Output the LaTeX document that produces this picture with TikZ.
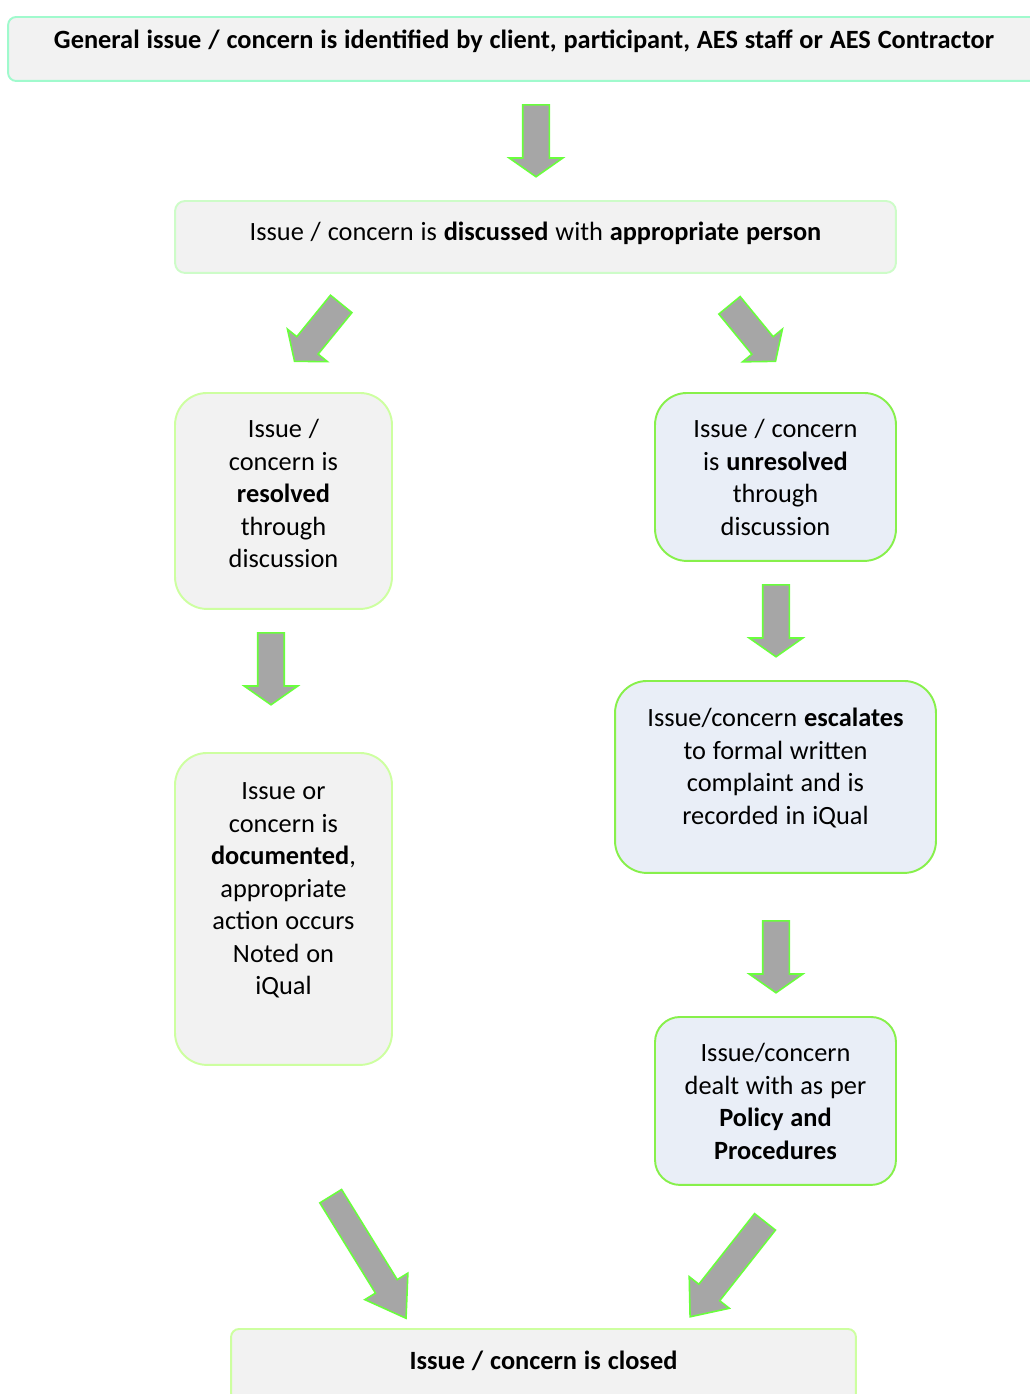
\documentclass[tikz,border=0pt]{standalone}
\usepackage{fontspec}
\setmainfont{Carlito}
\usepackage{xcolor}
\usepackage{tikz}
\usetikzlibrary{shapes.arrows}
\definecolor{boxgrey}{RGB}{242,242,242}
\definecolor{boxblue}{RGB}{233,238,247}
\definecolor{mint}{RGB}{160,250,205}
\definecolor{palegreen}{RGB}{205,252,200}
\definecolor{palelime}{RGB}{205,255,160}
\definecolor{brightlime}{RGB}{135,240,75}
\definecolor{arrowgrey}{RGB}{166,166,166}
\definecolor{arrowgreen}{RGB}{105,255,60}
\tikzstyle{stage} = [rectangle, rounded corners=0.64cm, draw=palelime, fill=boxgrey, line width=1.1pt, inner xsep=0pt, inner ysep=0pt, align=center, anchor=north, font=\fontsize{15pt}{18.5pt}\selectfont, execute at begin node={\spaceskip=0.26em\relax}]
\tikzstyle{stageblue} = [stage, draw=brightlime, fill=boxblue]
\tikzstyle{banner} = [stage, rounded corners=0.16cm, draw=mint]
\tikzstyle{blockarr} = [single arrow, draw=arrowgreen, fill=arrowgrey, line width=0.9pt, inner xsep=0pt, inner ysep=0.25cm, minimum width=0pt, single arrow head extend=0.27cm, single arrow tip angle=110, sloped, allow upside down, pos=0, anchor=tail, minimum height=1.44cm]

\begin{document}
\begin{tikzpicture}[x=0.02cm, y=-0.02cm]
    \clip (0,0) rectangle (1030,1394);

    % Opening step
    \node[banner, text width=20.64cm, text height=0.63cm, text depth=0.65cm] (top) at (524,16) {\textbf{General issue / concern is identified by client, participant, AES staff or AES Contractor}};
    \node[banner, draw=palegreen, rounded corners=0.2cm, text width=14.42cm, text height=0.80cm, text depth=0.64cm] (discuss) at (535.5,200) {Issue / concern is \textbf{discussed} with \textbf{appropriate person}};

    % Resolved branch
    \node[stage, text width=4.34cm, text height=0.90cm, text depth=3.42cm] (resolved) at (283.5,392) {Issue /\\concern is\\\textbf{resolved}\\through\\discussion};
    \node[stage, text width=4.34cm, text height=0.94cm, text depth=5.30cm] (documented) at (283.5,752) {Issue or\\concern is\\\textbf{documented},\\appropriate\\action occurs\\Noted on\\iQual};

    % Unresolved branch
    \node[stageblue, text width=4.82cm, text height=0.90cm, text depth=2.46cm] (unresolved) at (775.5,392) {Issue / concern\\is \textbf{unresolved}\\through\\discussion};
    \node[stageblue, text width=6.42cm, text height=0.92cm, text depth=2.92cm] (escalates) at (775.5,680) {Issue/concern \textbf{escalates}\\to formal written\\complaint and is\\recorded in iQual};
    \node[stageblue, rounded corners=0.5cm, text width=4.82cm, text height=0.90cm, text depth=2.46cm] (policy) at (775.5,1016) {Issue/concern\\dealt with as per\\\textbf{Policy and}\\\textbf{Procedures}};

    % Closing step
    \node[banner, draw=palelime, text width=12.50cm, text height=0.82cm, text depth=0.62cm] (closed) at (543.5,1328) {\textbf{Issue / concern is closed}};

    % Arrow ends
    \coordinate (t1) at (536,104);     \coordinate (h1) at (536,176);
    \coordinate (t2) at (341.7,303.3); \coordinate (h2) at (295,360.7);
    \coordinate (t3) at (729,304.7);   \coordinate (h3) at (775,360.7);
    \coordinate (t4) at (271,632);     \coordinate (h4) at (271,704);
    \coordinate (t5) at (776,584);     \coordinate (h5) at (776,656);
    \coordinate (t6) at (776,920);     \coordinate (h6) at (776,992);
    \coordinate (t7) at (330.3,1195.5); \coordinate (h7) at (405.7,1317.7);
    \coordinate (t8) at (765.5,1221.2); \coordinate (h8) at (690.7,1316);

    % Block arrows
    \path (t1) -- node[blockarr] (ar1) {} (h1);
    \path (t2) -- node[blockarr, minimum height=1.48cm, inner ysep=0.26cm, single arrow head extend=0.24cm, single arrow tip angle=103] (ar2) {} (h2);
    \path (t3) -- node[blockarr, minimum height=1.45cm, inner ysep=0.26cm, single arrow head extend=0.24cm, single arrow tip angle=103] (ar3) {} (h3);
    \path (t4) -- node[blockarr] (ar4) {} (h4);
    \path (t5) -- node[blockarr] (ar5) {} (h5);
    \path (t6) -- node[blockarr] (ar6) {} (h6);
    \path (t7) -- node[blockarr, minimum height=2.87cm, inner ysep=0.24cm, single arrow head extend=0.25cm, single arrow tip angle=68] (ar7) {} (h7);
    \path (t8) -- node[blockarr, minimum height=2.42cm, inner ysep=0.25cm, single arrow head extend=0.245cm, single arrow tip angle=79] (ar8) {} (h8);
\end{tikzpicture}
\end{document}
